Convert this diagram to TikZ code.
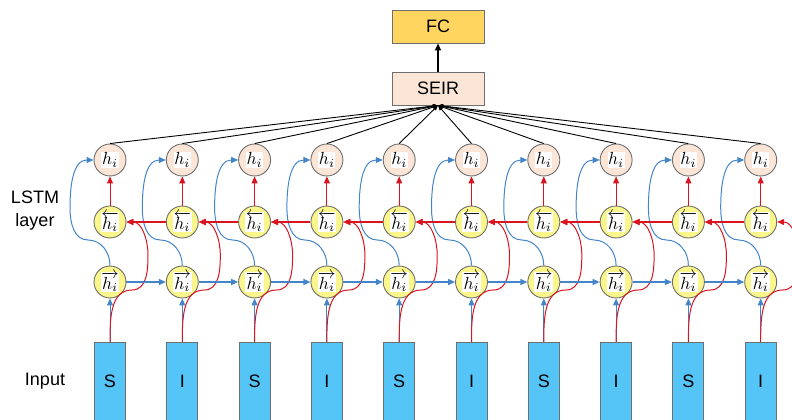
\documentclass[tikz,border=0pt]{standalone}
\usepackage{graphicx}
\usepackage{fontspec}
\setmainfont{Liberation Sans}
\usetikzlibrary{arrows.meta,calc}
\definecolor{lblue}{RGB}{68,132,200}
\definecolor{lred}{RGB}{218,20,30}
\definecolor{nyellow}{RGB}{250,246,140}
\definecolor{npeach}{RGB}{251,229,214}
\definecolor{ngray}{RGB}{110,110,110}
\definecolor{fcgold}{RGB}{255,212,95}
\definecolor{inblue}{RGB}{85,196,247}
\begin{document}
\begin{tikzpicture}[x=1pt,y=1pt,
  cell/.style={circle,draw=ngray,line width=0.9pt,minimum size=32pt,inner sep=0pt},
  fwd/.style={cell,fill=nyellow},
  bwd/.style={cell,fill=nyellow},
  outc/.style={cell,fill=npeach},
  inbox/.style={rectangle,draw=ngray,line width=0.9pt,fill=inblue,minimum width=31pt,minimum height=80pt,inner sep=0pt},
  lab/.style={font=\fontsize{18}{21}\selectfont,inner sep=0pt},
  topbox/.style={rectangle,draw=ngray,line width=0.9pt,minimum width=92pt,minimum height=33pt,font=\fontsize{18}{21}\selectfont},
  bl/.style={draw=lblue,line width=1pt,-{Triangle[length=7pt,width=6pt]}},
  blh/.style={bl,line width=1.4pt},
  rd/.style={draw=lred,line width=1pt,-{Triangle[length=7pt,width=6pt]}},
  rdh/.style={rd,line width=1.4pt},
  blk/.style={draw=black,line width=0.9pt,-{Triangle[length=5pt,width=4pt]}}
]
\useasboundingbox (0,0) rectangle (792,420);
\clip (0,0) rectangle (792,420);
\newcommand{\wb}[1]{{\setlength{\fboxsep}{0.6pt}\colorbox{white}{\scalebox{1.75}{$#1$}}}}

\node[topbox,fill=fcgold] (fc) at (438,393.5) {FC};
\node[topbox,fill=npeach] (seir) at (438,331.5) {SEIR};

\node[lab,align=center] (lstm) at (35,209) {LSTM\\[2pt]layer};
\node[lab] (inputlab) at (45,39) {Input};

\foreach \i/\t in {1/S,2/I,3/S,4/I,5/S,6/I,7/S,8/I,9/S,10/I}{
  \pgfmathsetmacro\cx{110+72.3*(\i-1)}
  \node[inbox,anchor=north] (in\i) at (\cx,78) {};
  \node[lab] (t\i) at (\cx,39) {\t};
  \node[fwd] (f\i) at (\cx,138) {\wb{\overrightarrow{h_i}}};
  \node[bwd] (b\i) at (\cx,198) {\wb{\overleftarrow{h_i}}};
  \node[outc] (h\i) at (\cx,260) {\wb{h_i}};
}

\foreach \i in {1,...,10}{
  \pgfmathsetmacro\cx{110+72.3*(\i-1)}
  \draw[bl] (in\i.north) -- (f\i.south);
  \draw[rd] (b\i.north) -- (h\i.south);
  \draw[bl] (f\i.north) to[out=90,in=0] (\cx-22,180) to[out=180,in=-90] (\cx-40,212) to[out=90,in=180] (h\i.west);
  \draw[rd] (in\i.north) to[out=90,in=180] (\cx+22,130) to[out=0,in=-90] (\cx+38,165) to[out=90,in=0] (b\i.east);
  \draw[blk] (h\i.north) -- (seir.south);
}
\foreach \i in {1,...,9}{
  \pgfmathtruncatemacro\j{\i+1}
  \draw[blh] (f\i.east) -- (f\j.west);
  \draw[rdh] (b\j.west) -- (b\i.east);
}
\draw[draw=black,line width=2pt,-{Triangle[length=7pt,width=6pt]}] (seir.north) -- (fc.south);
\end{tikzpicture}
\end{document}
